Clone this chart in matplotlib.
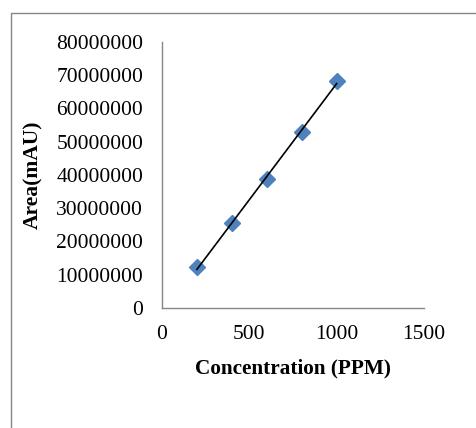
import matplotlib
matplotlib.use("Agg")
import matplotlib.pyplot as plt
import numpy as np
from matplotlib.patches import Rectangle

concentration = [200, 400, 600, 800, 1000]
area = [12200000, 25500000, 38700000, 53000000, 68300000]
x_ticks = [0, 500, 1000, 1500]
y_ticks = [0, 10000000, 20000000, 30000000, 40000000, 50000000, 60000000, 70000000, 80000000]

plt.rcParams["font.family"] = ["Liberation Serif", "DejaVu Serif"]

fig = plt.figure(figsize=(4.76, 4.28), dpi=100)
ax = fig.add_axes([0.3403, 0.2804, 0.5504, 0.6215])

ax.plot(concentration, area, linestyle="none", marker="D", markersize=8.5,
        color="#4F81BD", zorder=3)

# linear trendline
slope, intercept = np.polyfit(concentration, area, 1)
fit_x = np.array([min(concentration), max(concentration)])
ax.plot(fit_x, slope * fit_x + intercept, color="black", linewidth=1.2, zorder=4)

ax.set_xlim(0, 1500)
ax.set_ylim(0, 80000000)
ax.set_xticks(x_ticks)
ax.set_yticks(y_ticks)
ax.set_xticklabels([str(v) for v in x_ticks])
ax.set_yticklabels([str(v) for v in y_ticks])
ax.tick_params(length=0, labelsize=15.5)
ax.tick_params(axis="x", pad=12)
ax.tick_params(axis="y", pad=13.5)

for side in ["top", "right"]:
    ax.spines[side].set_visible(False)
for side in ["left", "bottom"]:
    ax.spines[side].set_color("#868686")
    ax.spines[side].set_linewidth(1.0)

ax.set_xlabel("Concentration (PPM)", fontsize=15.3, fontweight="bold", labelpad=11)
ax.set_ylabel("Area(mAU)", fontsize=15.5, fontweight="bold", labelpad=9)

border = Rectangle((11 / 476, -0.1), 1.2, 1 - 13 / 428 + 0.1, transform=fig.transFigure,
                   fill=False, edgecolor="#868686", linewidth=1.0, clip_on=False)
fig.patches.append(border)

fig.savefig("out.png", dpi=100)
